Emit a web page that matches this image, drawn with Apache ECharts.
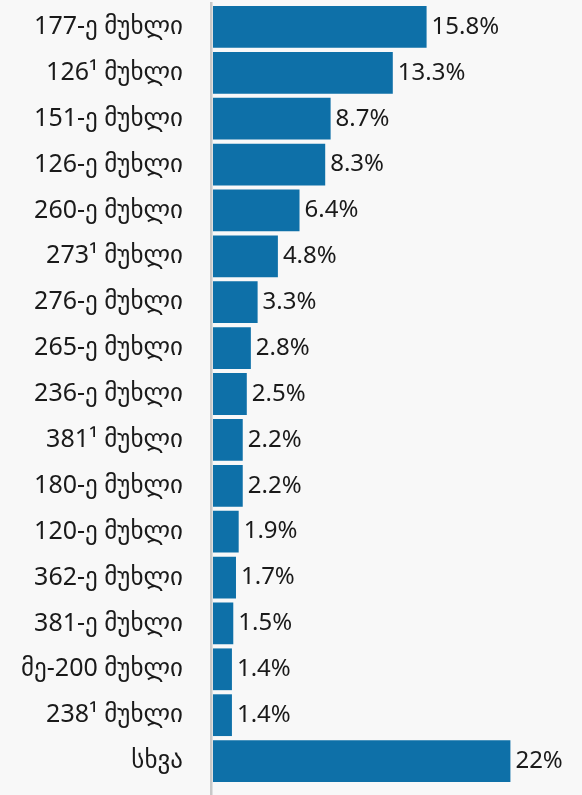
<!DOCTYPE html>
<html>
<head>
<meta charset="utf-8">
<script src="https://cdn.jsdelivr.net/npm/echarts@6/dist/echarts.min.js"></script>
<style>
  html, body { margin: 0; padding: 0; background: #f8f8f8; }
  #main { width: 582px; height: 795px; }
</style>
</head>
<body>
<div id="main"></div>
<script>
var categories = [
  '177-ე მუხლი', '126¹ მუხლი', '151-ე მუხლი', '126-ე მუხლი', '260-ე მუხლი',
  '273¹ მუხლი', '276-ე მუხლი', '265-ე მუხლი', '236-ე მუხლი', '381¹ მუხლი',
  '180-ე მუხლი', '120-ე მუხლი', '362-ე მუხლი', '381-ე მუხლი', 'მე-200 მუხლი',
  '238¹ მუხლი', 'სხვა'
];
var shares = [15.8, 13.3, 8.7, 8.3, 6.4, 4.8, 3.3, 2.8, 2.5, 2.2, 2.2, 1.9, 1.7, 1.5, 1.4, 1.4, 22];

var fontFamily = '"Noto Sans", "DejaVu Sans", sans-serif';

var myChart = echarts.init(document.getElementById('main'));

var option = {
  backgroundColor: '#f8f8f8',
  animation: false,
  grid: {
    top: 4,
    bottom: 11,
    left: 213,
    right: 4,
    containLabel: false
  },
  xAxis: {
    type: 'value',
    min: 0,
    max: 27,
    show: false
  },
  yAxis: {
    type: 'category',
    inverse: true,
    data: categories,
    axisLine: { show: false },
    axisTick: { show: false },
    axisLabel: {
      margin: 30,
      fontSize: 25,
      color: '#1a1a1a',
      fontFamily: fontFamily
    }
  },
  graphic: [{
    type: 'rect',
    shape: { x: 210, y: 2, width: 2.5, height: 795 },
    style: { fill: '#c8c8c8' },
    z: 10
  }],
  series: [{
    type: 'bar',
    data: shares,
    barCategoryGap: '9%',
    itemStyle: { color: '#0e70a8' },
    label: {
      show: true,
      position: 'right',
      distance: 5,
      fontSize: 24,
      color: '#1a1a1a',
      fontFamily: fontFamily,
      formatter: function (p) { return p.value + '%'; }
    }
  }]
};

myChart.setOption(option);
</script>
</body>
</html>
